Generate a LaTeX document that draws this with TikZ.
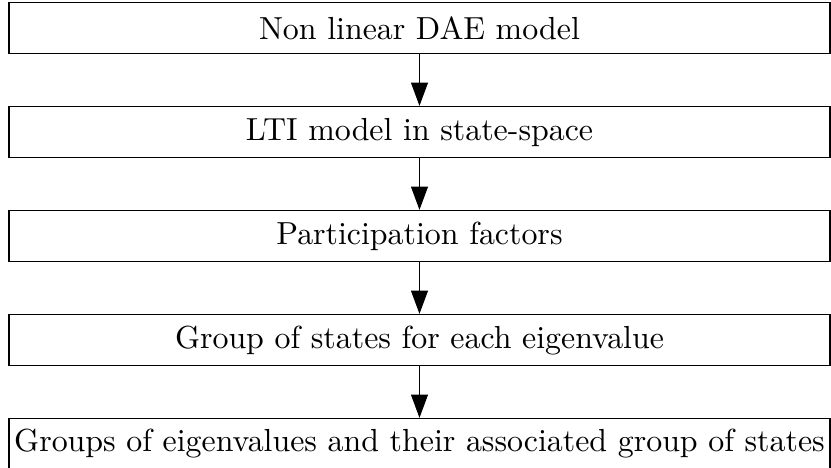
\documentclass[tikz,border=0pt]{standalone}
\usepackage{tikz}
\usetikzlibrary{arrows.meta,positioning}

\begin{document}
\begin{tikzpicture}[
  every node/.style={rectangle, sharp corners, align=center},
  stepbox/.style={draw=black, line width=0.4pt, inner xsep=1.4pt,
    minimum width=257.4pt, minimum height=16pt},
  arrow/.style={-{Triangle[length=7.3pt,width=5.3pt]}, line width=0.4pt, black},
  node distance=16.2pt
]
\useasboundingbox (0,0) rectangle (260.5pt,-146.4pt);

%% Row 0: nonlinear model
\node[stepbox] (dae) at (131.5pt,-8.8pt) {Non linear DAE model};

%% Rows 1--4
\node[stepbox, below=of dae] (lti) {LTI model in state-space};
\node[stepbox, below=of lti] (pf) {Participation factors};
\node[stepbox, below=of pf] (grp) {Group of states for each eigenvalue};
\node[stepbox, below=of grp] (eig) {Groups of eigenvalues and their associated group of states};

%% Arrows between the steps
\draw[arrow] (dae.south) -- (lti.north);
\draw[arrow] (lti.south) -- (pf.north);
\draw[arrow] (pf.south) -- (grp.north);
\draw[arrow] (grp.south) -- (eig.north);

\end{tikzpicture}
\end{document}
